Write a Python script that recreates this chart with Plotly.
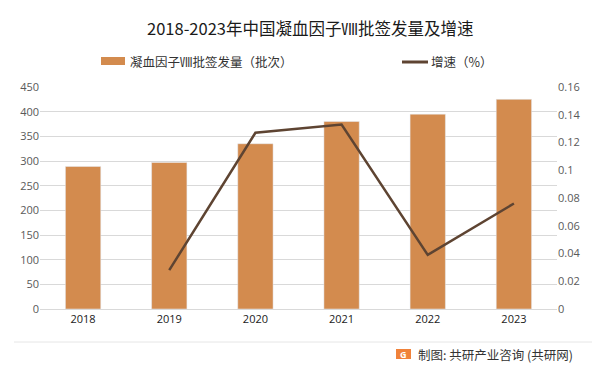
import plotly.graph_objects as go

years = ["2018", "2019", "2020", "2021", "2022", "2023"]
batches = [289, 297, 335, 380, 395, 425]
growth_years = ["2019", "2020", "2021", "2022", "2023"]
growth = [0.028, 0.127, 0.133, 0.039, 0.076]
left_ticks = [0, 50, 100, 150, 200, 250, 300, 350, 400, 450]
right_ticks = [0, 0.02, 0.04, 0.06, 0.08, 0.1, 0.12, 0.14, 0.16]

bar_name = "凝血因子Ⅷ批签发量（批次）"
line_name = "增速（%）"
title_text = "2018-2023年中国凝血因子Ⅷ批签发量及增速"
source_text = "制图: 共研产业咨询 (共研网)"

bar_color = "#D38B4E"
line_color = "#5E4432"
font_cjk = "Noto Sans CJK SC"

# page body has an 8px default margin; the figure is sized to fill the rest
OFF = 8
W, H = 600 - OFF, 371 - OFF
L, T = 40 - OFF, 87 - OFF
R = W - (557 - OFF)
B = H - (309 - OFF)
PW, PH = W - L - R, H - T - B


def px(xs):
    return (xs - OFF - L) / PW


def py(ys):
    return (H - B - (ys - OFF)) / PH


fig = go.Figure()
fig.add_trace(go.Bar(
    x=years, y=batches, name=bar_name,
    marker=dict(color=bar_color), width=0.41,
))
fig.add_trace(go.Scatter(
    x=growth_years, y=growth, name=line_name, yaxis="y2",
    mode="lines", line=dict(color=line_color, width=2.5),
))

fig.update_layout(
    width=W, height=H,
    paper_bgcolor="white", plot_bgcolor="white",
    margin=dict(l=L, r=R, t=T, b=B, autoexpand=False),
    showlegend=False,
    xaxis=dict(type="category", showgrid=False, showline=True, linecolor="#D9D9D9",
               linewidth=1, ticks="", tickfont=dict(family="Open Sans", size=11, color="#1a1a1a")),
    yaxis=dict(range=[0, 450], tickvals=left_ticks, showgrid=True, gridcolor="#D9D9D9",
               gridwidth=1, zeroline=False, ticks="",
               tickfont=dict(family="Open Sans", size=11, color="#595959")),
    yaxis2=dict(range=[0, 0.16], tickvals=right_ticks, overlaying="y", side="right",
                showgrid=False, zeroline=False, ticks="",
                tickfont=dict(family="Open Sans", size=11, color="#595959")),
    bargap=0.59,
)

# title
fig.add_annotation(xref="paper", yref="paper", x=px(310), y=py(28), xanchor="center",
                   yanchor="middle", text=title_text, showarrow=False,
                   font=dict(family=font_cjk, size=16.5, color="#1a1a1a"))

# custom legend
fig.add_shape(type="rect", xref="paper", yref="paper", x0=px(101), x1=px(125),
              y0=py(65), y1=py(57), fillcolor=bar_color, line=dict(width=0))
fig.add_annotation(xref="paper", yref="paper", x=px(128), y=py(61.5), xanchor="left",
                   yanchor="middle", text=bar_name, showarrow=False,
                   font=dict(family=font_cjk, size=12.5, color="#333333"))
fig.add_shape(type="line", xref="paper", yref="paper", x0=px(402), x1=px(428),
              y0=py(62), y1=py(62), line=dict(color=line_color, width=3))
fig.add_annotation(xref="paper", yref="paper", x=px(429), y=py(61.5), xanchor="left",
                   yanchor="middle", text=line_name, showarrow=False,
                   font=dict(family=font_cjk, size=12.5, color="#333333"))

# footer separator and source
fig.add_shape(type="line", xref="paper", yref="paper", x0=px(14), x1=px(600),
              y0=py(342), y1=py(342), line=dict(color="#E6E6E6", width=1))
fig.add_shape(type="rect", xref="paper", yref="paper", x0=px(396), x1=px(411),
              y0=py(359), y1=py(349), fillcolor="#F0823A", line=dict(width=0))
fig.add_annotation(xref="paper", yref="paper", x=px(403.5), y=py(354), xanchor="center",
                   yanchor="middle", text="<b>G</b>", showarrow=False,
                   font=dict(family="Open Sans", size=9, color="white"))
fig.add_annotation(xref="paper", yref="paper", x=px(416), y=py(354.5), xanchor="left",
                   yanchor="middle", text=source_text, showarrow=False,
                   font=dict(family=font_cjk, size=12.5, color="#333333"))

fig.write_html("out.html")
